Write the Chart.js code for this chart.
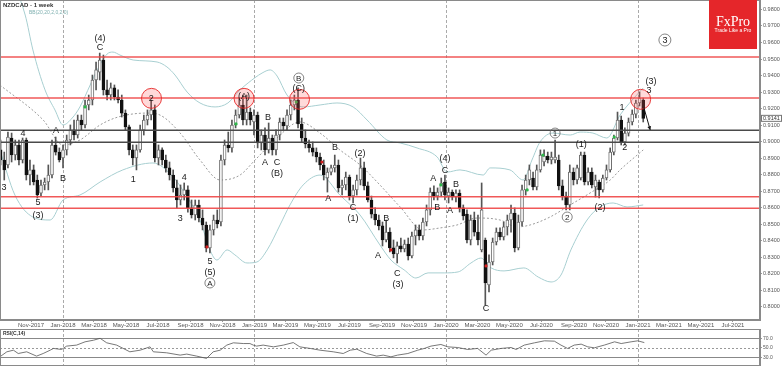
<!DOCTYPE html>
<html>
<head>
<meta charset="utf-8">
<script src="https://cdn.jsdelivr.net/npm/chart.js@4.4.0/dist/chart.umd.min.js"></script>
<style>
  html, body { margin: 0; padding: 0; background: #fff; }
  #wrap { position: relative; width: 782px; height: 366px; overflow: hidden; }
  #main { position: absolute; left: 0; top: 0; }
  #rsi { position: absolute; left: 0; top: 329px; }
</style>
</head>
<body>
<div id="wrap">
  <canvas id="main" width="782" height="329"></canvas>
  <canvas id="rsi" width="782" height="37"></canvas>
</div>
<script>
// weekly candles, week index counted from the week of 1 Jan 2018
const firstWeek = -17;
const opens = [
  0.8950, 0.8889, 0.8859, 0.9022, 0.8919, 0.8980, 0.8889, 0.9010, 0.8798, 0.8829, 0.8768, 0.8689, 0.8738, 0.8756, 0.8798, 0.8980, 0.8937,
  0.8901, 0.8950, 0.9010, 0.9071, 0.9040, 0.9131, 0.9101, 0.9222, 0.9252, 0.9373, 0.9421, 0.9494, 0.9313, 0.9282, 0.9325, 0.9270, 0.9252, 0.9173, 0.9089, 0.8950,
  0.8901, 0.8950, 0.9071, 0.9131, 0.9161, 0.9192, 0.8901, 0.8950, 0.8889, 0.8841, 0.8798, 0.8720, 0.8647, 0.8677, 0.8708, 0.8599, 0.8556, 0.8617, 0.8538, 0.8496,
  0.8357, 0.8466, 0.8526, 0.8514, 0.8889, 0.8980, 0.8962, 0.9101, 0.9161, 0.9222, 0.9131, 0.9179, 0.9119, 0.9161, 0.8992, 0.9040, 0.8950, 0.9022, 0.8950, 0.9040,
  0.9119, 0.9095, 0.9161, 0.9222, 0.9252, 0.9107, 0.9022, 0.8986, 0.8962, 0.8937, 0.8907, 0.8859, 0.8780, 0.8816, 0.8841, 0.8859, 0.8720, 0.8738, 0.8786, 0.8671,
  0.8708, 0.8768, 0.8841, 0.8732, 0.8647, 0.8562, 0.8526, 0.8490, 0.8405, 0.8453, 0.8357, 0.8321, 0.8369, 0.8351, 0.8381, 0.8309, 0.8429, 0.8466, 0.8429, 0.8514,
  0.8587, 0.8695, 0.8671, 0.8695, 0.8756, 0.8671, 0.8695, 0.8665, 0.8689, 0.8599, 0.8562, 0.8405, 0.8526, 0.8453, 0.8345, 0.8405, 0.8133, 0.8272, 0.8393, 0.8453,
  0.8423, 0.8484, 0.8526, 0.8568, 0.8357, 0.8514, 0.8708, 0.8768, 0.8780, 0.8726, 0.8829, 0.8877, 0.8913, 0.8889, 0.8889, 0.8889, 0.8732, 0.8671, 0.8617, 0.8816,
  0.8768, 0.8780, 0.8919, 0.8756, 0.8816, 0.8726, 0.8756, 0.8708, 0.8780, 0.8829, 0.8937, 0.9022, 0.9131, 0.8998, 0.9052, 0.9119, 0.9167, 0.9234, 0.9252
];
const highs = [
  0.9010, 0.8937, 0.9058, 0.9052, 0.9010, 0.9010, 0.9022, 0.9022, 0.8889, 0.8859, 0.8798, 0.8768, 0.8780, 0.8859, 0.9010, 0.9028, 0.8962,
  0.8980, 0.9040, 0.9101, 0.9131, 0.9161, 0.9161, 0.9252, 0.9282, 0.9403, 0.9482, 0.9536, 0.9524, 0.9373, 0.9355, 0.9343, 0.9313, 0.9282, 0.9192, 0.9101, 0.8980,
  0.8980, 0.9101, 0.9161, 0.9192, 0.9252, 0.9222, 0.8980, 0.8962, 0.8919, 0.8877, 0.8829, 0.8768, 0.8738, 0.8750, 0.8732, 0.8647, 0.8647, 0.8647, 0.8587, 0.8514,
  0.8496, 0.8556, 0.8587, 0.8919, 0.9010, 0.9058, 0.9131, 0.9192, 0.9264, 0.9282, 0.9282, 0.9204, 0.9192, 0.9179, 0.9071, 0.9083, 0.9113, 0.9040, 0.9071, 0.9143,
  0.9143, 0.9192, 0.9252, 0.9282, 0.9325, 0.9143, 0.9071, 0.9010, 0.8998, 0.8962, 0.8931, 0.8889, 0.8841, 0.8859, 0.8919, 0.8889, 0.8768, 0.8816, 0.8798, 0.8738,
  0.8798, 0.8901, 0.8877, 0.8756, 0.8671, 0.8599, 0.8556, 0.8514, 0.8526, 0.8478, 0.8405, 0.8393, 0.8417, 0.8405, 0.8417, 0.8453, 0.8496, 0.8496, 0.8538, 0.8617,
  0.8720, 0.8732, 0.8720, 0.8780, 0.8798, 0.8720, 0.8708, 0.8708, 0.8708, 0.8617, 0.8587, 0.8556, 0.8574, 0.8556, 0.8750, 0.8417, 0.8315, 0.8417, 0.8478, 0.8478,
  0.8514, 0.8556, 0.8617, 0.8599, 0.8556, 0.8738, 0.8798, 0.8859, 0.8816, 0.8859, 0.8950, 0.8950, 0.8937, 0.8937, 0.9010, 0.8919, 0.8768, 0.8695, 0.8859, 0.8841,
  0.8859, 0.8937, 0.8937, 0.8841, 0.8841, 0.8798, 0.8768, 0.8798, 0.8859, 0.8962, 0.9040, 0.9179, 0.9155, 0.9083, 0.9143, 0.9192, 0.9252, 0.9300, 0.9264
];
const lows = [
  0.8859, 0.8768, 0.8841, 0.8877, 0.8889, 0.8859, 0.8871, 0.8768, 0.8738, 0.8738, 0.8659, 0.8671, 0.8708, 0.8708, 0.8780, 0.8919, 0.8877,
  0.8841, 0.8919, 0.8980, 0.9010, 0.9022, 0.9071, 0.9083, 0.9192, 0.9222, 0.9313, 0.9373, 0.9282, 0.9252, 0.9252, 0.9252, 0.9234, 0.9149, 0.9071, 0.8919, 0.8859,
  0.8829, 0.8937, 0.9040, 0.9101, 0.9131, 0.8877, 0.8859, 0.8859, 0.8816, 0.8768, 0.8695, 0.8599, 0.8617, 0.8647, 0.8574, 0.8538, 0.8526, 0.8514, 0.8466, 0.8333,
  0.8327, 0.8435, 0.8478, 0.8490, 0.8859, 0.8937, 0.8937, 0.9083, 0.9143, 0.9101, 0.9101, 0.9101, 0.9040, 0.8962, 0.8950, 0.8919, 0.8931, 0.8919, 0.8919, 0.9010,
  0.9071, 0.9071, 0.9131, 0.9192, 0.9083, 0.8998, 0.8962, 0.8937, 0.8913, 0.8877, 0.8829, 0.8768, 0.8695, 0.8798, 0.8816, 0.8695, 0.8677, 0.8708, 0.8647, 0.8629,
  0.8677, 0.8738, 0.8708, 0.8635, 0.8538, 0.8496, 0.8466, 0.8369, 0.8393, 0.8333, 0.8297, 0.8266, 0.8333, 0.8333, 0.8284, 0.8297, 0.8375, 0.8405, 0.8405, 0.8490,
  0.8556, 0.8647, 0.8647, 0.8671, 0.8647, 0.8629, 0.8647, 0.8635, 0.8574, 0.8526, 0.8387, 0.8375, 0.8429, 0.8375, 0.8333, 0.8012, 0.8091, 0.8254, 0.8375, 0.8405,
  0.8405, 0.8435, 0.8453, 0.8333, 0.8345, 0.8490, 0.8677, 0.8738, 0.8708, 0.8708, 0.8816, 0.8853, 0.8871, 0.8865, 0.8871, 0.8708, 0.8647, 0.8587, 0.8587, 0.8738,
  0.8744, 0.8768, 0.8738, 0.8738, 0.8720, 0.8665, 0.8659, 0.8695, 0.8768, 0.8816, 0.8919, 0.9010, 0.8980, 0.8980, 0.9034, 0.9101, 0.9143, 0.9216, 0.9119
];
const closes = [
  0.8889, 0.8829, 0.9028, 0.8919, 0.8980, 0.8889, 0.9010, 0.8798, 0.8829, 0.8756, 0.8677, 0.8738, 0.8756, 0.8798, 0.8980, 0.8937, 0.8889,
  0.8950, 0.9010, 0.9071, 0.9040, 0.9131, 0.9101, 0.9222, 0.9252, 0.9373, 0.9434, 0.9494, 0.9313, 0.9282, 0.9325, 0.9270, 0.9252, 0.9173, 0.9089, 0.8950, 0.8901,
  0.8950, 0.9071, 0.9131, 0.9161, 0.9192, 0.8901, 0.8950, 0.8889, 0.8841, 0.8798, 0.8720, 0.8647, 0.8677, 0.8708, 0.8599, 0.8556, 0.8617, 0.8538, 0.8496, 0.8357,
  0.8466, 0.8526, 0.8502, 0.8889, 0.8980, 0.8962, 0.9101, 0.9161, 0.9222, 0.9131, 0.9179, 0.9131, 0.9161, 0.8992, 0.9040, 0.8950, 0.9022, 0.8950, 0.9040, 0.9119,
  0.9095, 0.9161, 0.9222, 0.9252, 0.9107, 0.9022, 0.8986, 0.8962, 0.8937, 0.8907, 0.8859, 0.8798, 0.8816, 0.8841, 0.8859, 0.8720, 0.8738, 0.8786, 0.8671, 0.8708,
  0.8768, 0.8841, 0.8732, 0.8647, 0.8562, 0.8526, 0.8490, 0.8405, 0.8453, 0.8357, 0.8321, 0.8369, 0.8351, 0.8381, 0.8309, 0.8429, 0.8466, 0.8429, 0.8514, 0.8587,
  0.8695, 0.8671, 0.8695, 0.8750, 0.8677, 0.8695, 0.8665, 0.8689, 0.8599, 0.8550, 0.8405, 0.8526, 0.8453, 0.8405, 0.8587, 0.8145, 0.8272, 0.8393, 0.8453, 0.8423,
  0.8484, 0.8526, 0.8568, 0.8357, 0.8514, 0.8708, 0.8768, 0.8829, 0.8726, 0.8829, 0.8919, 0.8913, 0.8889, 0.8907, 0.8907, 0.8732, 0.8671, 0.8617, 0.8816, 0.8768,
  0.8841, 0.8919, 0.8756, 0.8816, 0.8738, 0.8768, 0.8708, 0.8780, 0.8829, 0.8937, 0.9022, 0.9131, 0.8998, 0.9052, 0.9119, 0.9167, 0.9234, 0.9264, 0.9141
];

// Bollinger bands (20,2) as [week, price]
const bbUpper = [
  [-15, 1.0035], [-10.3, 0.9766], [-8.2, 0.9555], [-4.9, 0.9313], [-2.2, 0.9192], [0, 0.9101], [2.5, 0.9143], [4.6, 0.9210],
  [7.4, 0.9343], [9.3, 0.9434], [12, 0.9530], [13.6, 0.9542], [15.5, 0.9524], [19.1, 0.9494], [25.6, 0.9482], [28.3, 0.9452],
  [30.5, 0.9403], [33.8, 0.9300], [37.3, 0.9234], [41.4, 0.9210], [44.9, 0.9234], [48.2, 0.9313], [50.4, 0.9355], [54.2, 0.9415],
  [56.4, 0.9434], [58.3, 0.9397], [61, 0.9282], [65.4, 0.9210], [70, 0.9222], [74.6, 0.9234], [79, 0.9210], [82.8, 0.9131],
  [88.2, 0.9010], [91.8, 0.8992], [96.4, 0.8962], [101.9, 0.8907], [104.6, 0.8816], [108.1, 0.8829], [114.4, 0.8798], [116.3, 0.8841],
  [121.7, 0.8829], [125.3, 0.8768], [127.7, 0.8889], [129.9, 0.8998], [133.4, 0.9052], [138.1, 0.9040], [140.8, 0.9058], [144.3, 0.9052],
  [148.1, 0.9022], [151.7, 0.9161], [155, 0.9252], [158, 0.9325]
];
const bbMiddle = [
  [-17.2, 0.9343], [-5.4, 0.9131], [0, 0.8980], [4.6, 0.9010], [10.1, 0.9101], [15, 0.9149], [22.9, 0.9173], [26.4, 0.9161],
  [31.9, 0.9052], [37.3, 0.8889], [42.8, 0.8768], [48.2, 0.8798], [52.3, 0.8889], [57.7, 0.9010], [64.5, 0.9119], [70, 0.9052],
  [75.4, 0.8950], [80.9, 0.8859], [86.3, 0.8738], [91.8, 0.8605], [98, 0.8466], [102.7, 0.8478], [107.3, 0.8496], [112.7, 0.8538],
  [119, 0.8526], [123.6, 0.8484], [127.2, 0.8496], [132.6, 0.8544], [138.1, 0.8617], [143.5, 0.8689], [149, 0.8768], [151.7, 0.8829],
  [158, 0.8950]
];
const bbLower = [
  [-17.2, 0.8950], [-13.1, 0.8677], [-8.2, 0.8544], [-3.5, 0.8526], [0, 0.8647], [4.6, 0.8677], [10.1, 0.8756], [16.3, 0.8829],
  [24.5, 0.8871], [30, 0.8786], [33.8, 0.8665], [37.3, 0.8526], [40, 0.8345], [41.9, 0.8284], [44.7, 0.8345], [46.8, 0.8315],
  [50.1, 0.8266], [52.8, 0.8272], [55.6, 0.8345], [59.1, 0.8496], [61.8, 0.8617], [65.4, 0.8738], [70, 0.8798], [75.4, 0.8677],
  [80.9, 0.8556], [86.3, 0.8375], [89.3, 0.8284], [92.9, 0.8224], [96.1, 0.8175], [99.4, 0.8206], [103.8, 0.8206], [107.6, 0.8212],
  [111.1, 0.8266], [113.8, 0.8296], [116.6, 0.8236], [120.1, 0.8218], [125.5, 0.8236], [129.4, 0.8181], [132.9, 0.8151], [135.6, 0.8193],
  [138.3, 0.8345], [142.7, 0.8526], [146.2, 0.8605], [149.8, 0.8629], [153.6, 0.8605], [158, 0.8617]
];

// RSI(14) as [week, value]
const rsiLine = [
  [-17.2, 31], [-15.3, 41.6], [-13.5, 45], [-12.2, 38], [-9.9, 41.6], [-7.2, 32.5], [-5.4, 38], [-3.5, 45], [-2.6, 48.7], [-0.4, 46.5],
  [1, 53.6], [3.7, 55.7], [6, 62.6], [8.3, 66], [10.1, 70], [11.9, 60.5], [14.6, 55.7], [18.2, 41.6], [21, 45], [23.7, 52],
  [24.6, 41.6], [28.2, 39.5], [31.9, 34.6], [33.7, 36.8], [36.4, 32.5], [39.1, 27.7], [40.9, 41.6], [42.8, 45], [44.6, 55.7], [46.4, 60.5],
  [49.1, 59], [50.9, 59], [51.8, 55.7], [52.7, 53.6], [54.5, 55.7], [57.3, 52], [60, 55.7], [62.7, 61], [64.5, 52], [67.3, 48.7],
  [70, 45], [73.6, 41.6], [76.3, 38], [78.2, 45], [80, 47], [82.7, 38], [85.4, 32.5], [87.2, 34.6], [89.3, 31], [91.1, 34.6],
  [93.9, 38], [96.6, 45], [98.4, 48.7], [100.2, 53.6], [102.9, 57], [104.8, 52], [107.5, 50.6], [110.2, 46.5], [112.9, 48.7], [115.2, 34.6],
  [116.6, 45], [119.3, 48.7], [122, 50.6], [123.4, 46.5], [125.6, 55.7], [128.4, 60.5], [131.1, 64.7], [133.8, 64], [135.6, 55.7], [137.4, 48.7],
  [139.2, 55.7], [141.1, 57.7], [142.9, 52], [144.7, 50], [147.4, 55.7], [150.2, 62.6], [152, 59], [154.7, 62.6], [156.5, 64.7], [158.3, 61]
];

// signal dots on some candles
const greenDots = [[6, 0.9210], [47.1, 0.9107], [63.5, 0.9240], [102.9, 0.8738], [126.4, 0.8708], [130.7, 0.8919], [150.1, 0.9028]];
const redDots = [[39.2, 0.8363], [70.5, 0.8877], [89.3, 0.8345], [115.2, 0.8248]];

// horizontal support / resistance levels
const levels = [0.9512, 0.9264, 0.9069, 0.8996, 0.8667, 0.8597];
const levelKinds = ['res', 'res', 'sup', 'sup', 'res', 'res'];

const priceTicks = [0.98, 0.97, 0.96, 0.95, 0.94, 0.93, 0.92, 0.91, 0.90, 0.89, 0.88, 0.87, 0.86, 0.85, 0.84, 0.83, 0.82, 0.81, 0.80];
const monthLabels = ['Nov-2017', 'Jan-2018', 'Mar-2018', 'May-2018', 'Jul-2018', 'Sep-2018', 'Nov-2018', 'Jan-2019', 'Mar-2019', 'May-2019',
  'Jul-2019', 'Sep-2019', 'Nov-2019', 'Jan-2020', 'Mar-2020', 'May-2020', 'Jul-2020', 'Sep-2020', 'Nov-2020', 'Jan-2021', 'Mar-2021', 'May-2021', 'Jul-2021'];
const yearLines = ['Jan-2018', 'Jan-2019', 'Jan-2020', 'Jan-2021'];
const rsiLevels = [70, 50, 30];
const rsiTicks = [70, 50, 30];

// Elliott wave marks [text, week, price]
const waveLabels = [
  ['3', -16.1, 0.8720], ['4', -10.9, 0.9052], ['5', -6.8, 0.8629], ['(3)', -6.8, 0.8556], ['A', -1.9, 0.9070], ['B', 0, 0.8780],
  ['(4)', 10.1, 0.9627], ['C', 10.1, 0.9567], ['1', 19.1, 0.8768], ['2', 24, 0.9264], ['3', 31.9, 0.8538], ['4', 33, 0.8786],
  ['5', 40, 0.8272], ['(5)', 40, 0.8211], ['(A)', 49.3, 0.9276], ['B', 55.8, 0.9149], ['A', 55, 0.8871], ['C', 58.3, 0.8871],
  ['(B)', 58.3, 0.8810], ['(C)', 64.2, 0.9319], ['A', 72.2, 0.8659], ['B', 74.1, 0.8962], ['(2)', 80.9, 0.8931], ['C', 79, 0.8599],
  ['(1)', 79, 0.8538], ['A', 85.8, 0.8314], ['B', 88, 0.8538], ['C', 91, 0.8205], ['(3)', 91.2, 0.8133], ['A', 100.8, 0.8774],
  ['B', 101.9, 0.8599], ['(4)', 104, 0.8895], ['C', 104, 0.8828], ['B', 107, 0.8738], ['A', 105.4, 0.8586], ['C', 115.2, 0.7988],
  ['(1)', 141.1, 0.8980], ['(2)', 146.2, 0.8599], ['1', 152.2, 0.9204], ['2', 153, 0.8962], ['(3)', 160.1, 0.9361], ['3', 159.6, 0.9312]
];
const circledLabels = [['A', 40, 0.8145], ['B', 64.2, 0.9385], ['1', 134, 0.9052], ['2', 137.3, 0.8544], ['3', 163.9, 0.9615]];
const redCircles = [[24.1, 0.9262], [49.3, 0.9262], [64.4, 0.9256], [157.3, 0.9256]];
const arrowPath = [[158.2, 0.9204], [159.9, 0.9071]];

const MONTHS = ['Jan', 'Feb', 'Mar', 'Apr', 'May', 'Jun', 'Jul', 'Aug', 'Sep', 'Oct', 'Nov', 'Dec'];
function weekOf(label) {
  const [m, y] = label.split('-');
  return (Date.UTC(+y, MONTHS.indexOf(m), 1) - Date.UTC(2018, 0, 1)) / 6048e5;
}

const xMin = -17.16, xMax = 189.8;
const FONT = '"Liberation Sans", Arial, sans-serif';
const weeks = opens.map((_, i) => firstWeek + i);
const isUp = i => closes[i] >= opens[i];
const pts = arr => arr.map(p => ({ x: p[0], y: p[1] }));
// keep the plot flush with the canvas edges, as in the terminal screenshot
const noPad = s => { s.paddingTop = 0; s.paddingBottom = 0; s.paddingLeft = 0; s.paddingRight = 0; };

function yearSeparators(chart) {
  const { ctx, chartArea: a, scales: { x } } = chart;
  ctx.save();
  ctx.strokeStyle = '#aaa';
  ctx.lineWidth = 1;
  ctx.setLineDash([3, 2]);
  yearLines.forEach(l => {
    const px = Math.round(x.getPixelForValue(weekOf(l))) + 0.5;
    ctx.beginPath(); ctx.moveTo(px, a.top); ctx.lineTo(px, a.bottom); ctx.stroke();
  });
  ctx.restore();
}

const mainOverlay = {
  id: 'mainOverlay',
  beforeDatasetsDraw(chart) { yearSeparators(chart); },
  afterDatasetsDraw(chart) {
    const { ctx, chartArea: a, scales: { x, y } } = chart;
    ctx.save();
    // levels
    levels.forEach((v, i) => {
      const py = y.getPixelForValue(v);
      ctx.strokeStyle = levelKinds[i] === 'res' ? 'rgba(238,70,70,0.9)' : '#4a4a4a';
      ctx.lineWidth = 1.6;
      ctx.beginPath(); ctx.moveTo(a.left, py); ctx.lineTo(a.right, py); ctx.stroke();
    });
    // highlighted turning points
    redCircles.forEach(([k, v]) => {
      ctx.beginPath();
      ctx.arc(x.getPixelForValue(k), y.getPixelForValue(v), 10, 0, Math.PI * 2);
      ctx.fillStyle = 'rgba(255,80,80,0.22)';
      ctx.fill();
      ctx.strokeStyle = 'rgba(230,40,40,0.9)';
      ctx.lineWidth = 1;
      ctx.stroke();
    });
    // wave labels
    ctx.fillStyle = '#1a1a1a';
    ctx.font = '9px ' + FONT;
    ctx.textAlign = 'center';
    ctx.textBaseline = 'middle';
    waveLabels.forEach(([t, k, v]) => ctx.fillText(t, x.getPixelForValue(k), y.getPixelForValue(v)));
    circledLabels.forEach(([t, k, v], i) => {
      const px = x.getPixelForValue(k), py = y.getPixelForValue(v);
      const r = i === circledLabels.length - 1 ? 6 : 5;
      ctx.beginPath(); ctx.arc(px, py, r, 0, Math.PI * 2);
      ctx.strokeStyle = '#666'; ctx.lineWidth = 0.8; ctx.stroke();
      ctx.font = (r + 3) + 'px ' + FONT;
      ctx.fillText(t, px, py + 0.5);
    });
    // arrow after the last candle
    const [p0, p1] = arrowPath.map(([k, v]) => [x.getPixelForValue(k), y.getPixelForValue(v)]);
    ctx.strokeStyle = '#111'; ctx.lineWidth = 1;
    ctx.beginPath(); ctx.moveTo(p0[0], p0[1]); ctx.lineTo(p1[0], p1[1]); ctx.stroke();
    const ang = Math.atan2(p1[1] - p0[1], p1[0] - p0[0]);
    ctx.fillStyle = '#111';
    ctx.beginPath();
    ctx.moveTo(p1[0], p1[1]);
    ctx.lineTo(p1[0] - 4 * Math.cos(ang - 0.5), p1[1] - 4 * Math.sin(ang - 0.5));
    ctx.lineTo(p1[0] - 4 * Math.cos(ang + 0.5), p1[1] - 4 * Math.sin(ang + 0.5));
    ctx.fill();
    // frame
    ctx.strokeStyle = '#8a8a8a'; ctx.lineWidth = 1;
    ctx.strokeRect(a.left + 0.5, a.top + 0.5, a.width - 1, a.height - 1);
    // title and indicator name
    ctx.textAlign = 'left';
    ctx.fillStyle = '#333';
    ctx.font = 'bold 6px ' + FONT;
    ctx.fillText('NZDCAD - 1 week', 3, 5);
    ctx.fillStyle = '#7fb0b0';
    ctx.font = '5px ' + FONT;
    ctx.fillText('BB(20,20,2,0,2,0)', 29, 13);
    // logo
    ctx.fillStyle = '#e5262a';
    ctx.fillRect(709, 0, 48, 49);
    ctx.fillStyle = '#fff';
    ctx.textAlign = 'center';
    ctx.font = '14px "Liberation Serif", "DejaVu Serif", serif';
    ctx.fillText('FxPro', 733, 22);
    ctx.font = '5px ' + FONT;
    ctx.fillText('Trade Like a Pro', 733, 31);
    // last price tag on the axis
    const last = closes[closes.length - 1];
    const py = y.getPixelForValue(last);
    ctx.fillStyle = '#fff'; ctx.fillRect(a.right + 1, py - 3.5, 21, 7);
    ctx.strokeStyle = '#777'; ctx.strokeRect(a.right + 1.5, py - 3, 20, 6);
    ctx.fillStyle = '#333'; ctx.font = '5.5px ' + FONT; ctx.textAlign = 'left';
    ctx.fillText(last.toFixed(4), a.right + 3, py);
    ctx.restore();
  }
};

new Chart(document.getElementById('main'), {
  data: {
    datasets: [
      {
        type: 'scatter', data: pts(greenDots), pointRadius: 1.6, pointHoverRadius: 0, pointBackgroundColor: '#2db84a', pointBorderWidth: 0, order: 0
      },
      {
        type: 'scatter', data: pts(redDots), pointRadius: 1.6, pointHoverRadius: 0, pointBackgroundColor: '#d42020', pointBorderWidth: 0, order: 0
      },
      {
        type: 'bar', grouped: false, order: 1, barThickness: 3,
        data: weeks.map((k, i) => ({ x: k, y: [opens[i], closes[i]] })),
        backgroundColor: c => isUp(c.dataIndex) ? '#ffffff' : '#111111',
        borderColor: c => isUp(c.dataIndex) ? '#707070' : '#111111',
        borderWidth: 1, borderSkipped: false, minBarLength: 1
      },
      {
        type: 'bar', grouped: false, order: 2, barThickness: 1,
        data: weeks.map((k, i) => ({ x: k, y: [lows[i], highs[i]] })),
        backgroundColor: '#555'
      },
      { type: 'line', data: pts(bbUpper), borderColor: '#a8cfd1', borderWidth: 1, pointRadius: 0, cubicInterpolationMode: 'monotone', order: 5 },
      { type: 'line', data: pts(bbLower), borderColor: '#a8cfd1', borderWidth: 1, pointRadius: 0, cubicInterpolationMode: 'monotone', order: 5 },
      { type: 'line', data: pts(bbMiddle), borderColor: '#9a9a9a', borderWidth: 1, borderDash: [2, 2], pointRadius: 0, cubicInterpolationMode: 'monotone', order: 5 }
    ]
  },
  options: {
    responsive: false,
    animation: false,
    events: [],
    layout: { padding: 0, autoPadding: false },
    plugins: { legend: { display: false }, tooltip: { enabled: false } },
    scales: {
      x: {
        type: 'linear', min: xMin, max: xMax, offset: false,
        afterBuildTicks: s => { s.ticks = monthLabels.map(l => ({ value: weekOf(l) })); },
        afterFit: s => { s.height = 9; noPad(s); },
        ticks: {
          autoSkip: false, maxRotation: 0, padding: 0, color: '#555',
          font: { size: 6, family: FONT },
          callback: (v, i) => monthLabels[i]
        },
        grid: { drawOnChartArea: false, tickLength: 2, color: '#999', offset: false },
        border: { color: '#8a8a8a' }
      },
      y: {
        type: 'linear', position: 'right', min: 0.7921, max: 0.9857,
        afterBuildTicks: s => { s.ticks = priceTicks.map(v => ({ value: v })); },
        afterFit: s => { s.width = 22; noPad(s); },
        ticks: { padding: 1, color: '#555', font: { size: 5.5, family: FONT }, callback: v => v.toFixed(4) },
        grid: { drawOnChartArea: false, tickLength: 2, color: '#999' },
        border: { color: '#8a8a8a' }
      }
    }
  },
  plugins: [mainOverlay]
});

const rsiOverlay = {
  id: 'rsiOverlay',
  beforeDatasetsDraw(chart) {
    const { ctx, chartArea: a, scales: { y } } = chart;
    yearSeparators(chart);
    ctx.save();
    rsiLevels.forEach(v => {
      const py = Math.round(y.getPixelForValue(v)) + 0.5;
      ctx.strokeStyle = v === 50 ? '#999' : '#888';
      ctx.setLineDash(v === 50 ? [2, 2] : []);
      ctx.lineWidth = 1;
      ctx.beginPath(); ctx.moveTo(a.left, py); ctx.lineTo(a.right, py); ctx.stroke();
    });
    ctx.restore();
  },
  afterDatasetsDraw(chart) {
    const { ctx, chartArea: a } = chart;
    ctx.save();
    ctx.strokeStyle = '#8a8a8a'; ctx.lineWidth = 1;
    ctx.strokeRect(a.left + 0.5, a.top + 0.5, a.width - 1, a.height - 1);
    ctx.fillStyle = '#333';
    ctx.font = 'bold 5px ' + FONT;
    ctx.textBaseline = 'middle';
    ctx.fillText('RSI(C,14)', 3, 5);
    ctx.restore();
  }
};

new Chart(document.getElementById('rsi'), {
  type: 'line',
  data: {
    datasets: [{ data: pts(rsiLine), borderColor: '#555', borderWidth: 0.8, pointRadius: 0, pointHoverRadius: 0 }]
  },
  options: {
    responsive: false,
    animation: false,
    events: [],
    layout: { padding: 0, autoPadding: false },
    plugins: { legend: { display: false }, tooltip: { enabled: false } },
    scales: {
      x: { type: 'linear', min: xMin, max: xMax, offset: false, display: false },
      y: {
        type: 'linear', position: 'right', min: 11.7, max: 89.6,
        afterBuildTicks: s => { s.ticks = rsiTicks.map(v => ({ value: v })); },
        afterFit: s => { s.width = 22; noPad(s); },
        ticks: { padding: 1, color: '#555', font: { size: 5, family: FONT }, callback: v => v.toFixed(1) },
        grid: { drawOnChartArea: false, tickLength: 2, color: '#999' },
        border: { color: '#8a8a8a' }
      }
    }
  },
  plugins: [rsiOverlay]
});
</script>
</body>
</html>
